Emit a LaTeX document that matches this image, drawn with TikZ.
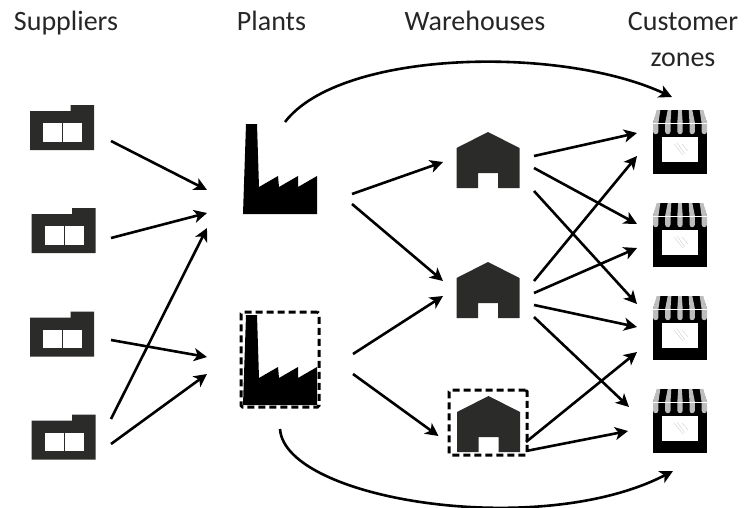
\documentclass[tikz,border=0pt]{standalone}
\usepackage{fontspec}
\setmainfont{Carlito}
\usetikzlibrary{arrows.meta,calc}
\definecolor{ink}{HTML}{2B2B2A}
\definecolor{stripe}{HTML}{BDBDBD}
\tikzset{
  x=1pt,y=-1pt,
  heading/.style={font=\fontsize{28}{36}\selectfont,align=center,text=black!85,inner sep=0pt},
  link/.style={draw=black,line width=2.6pt,-{Stealth[length=13pt,width=13pt,inset=3.5pt]}},
  bound/.style={draw=black,line width=3pt,dash pattern=on 7pt off 4pt,rounded corners=1.5pt,inner sep=0pt},
  holder/.style={inner sep=0pt,minimum width=0pt,draw=none},
  pics/supplier/.style={code={
    \fill[ink] (-32,-16.5)--(8.5,-16.5)--(8.5,-22.5)--(32,-22.5)--(32,22.5)--(-32,22.5)--cycle;
    \fill[white] (-19,-4.5) rectangle (0,14);
    \fill[white] (1,-4.5) rectangle (20,14);
  }},
  pics/plant/.style={code={
    \fill[black] (-37,45)--(-34,-45)--(-23,-45)--(-21,18)--(-2,7)--(-1,18)--(18,7)--(18,18)--(37,7)--(37,45)--cycle;
  }},
  pics/depot/.style={code={
    \fill[ink] (-31.5,-12)--(0,-28)--(31.5,-12)--(31.5,28)--(10,28)--(10,13)--(-10,13)--(-10,28)--(-31.5,28)--cycle;
  }},
  pics/shop/.style={code={
    \fill[black] (-27,-20) rectangle (27,31);
    \fill[white] (-18,-6) rectangle (18,19);
    \fill[black] (-22.5,-33)--(22.5,-33)--(27,-20)--(-27,-20)--cycle;
    \foreach \t/\b in {-21.5/-24.3,-10.5/-12.2,0/0,10.5/12.2,21.5/24.3}{
      \fill[stripe] (\t-1.8,-33)--(\t+1.8,-33)--(\b+2.7,-20)--(\b+2.7,-11.5)
        arc[start angle=0,end angle=180,radius=2.7]--(\b-2.7,-20)--cycle;
    }
    \draw[white,line width=0.5pt] (-27,-20)--(27,-20);
    \draw[black!18,line width=0.4pt] (-6,1)--(3,12) (-3,0)--(5,11) (2,1)--(8,8);
  }}
}
\begin{document}
\begin{tikzpicture}
\useasboundingbox (0,0) rectangle (744,507);
% headings
\node[heading,anchor=base] (hs) at (66,30) {Suppliers};
\node[heading,anchor=base] (hp) at (271.5,30) {Plants};
\node[heading,anchor=base] (hw) at (475,30) {Warehouses};
\node[heading] (hc) at (683,40) {Customer\\zones};
% icons
\node[holder] (s1) at (62,127.5) {}; \pic at (s1) {supplier};
\node[holder] (s2) at (63.5,230.5) {}; \pic at (s2) {supplier};
\node[holder] (s3) at (62,334) {}; \pic at (s3) {supplier};
\node[holder] (s4) at (63.5,437) {}; \pic at (s4) {supplier};
\node[holder] (p1) at (280,169) {}; \pic at (p1) {plant};
\node[holder] (p2) at (280,360) {}; \pic at (p2) {plant};
\node[holder] (w1) at (488,160) {}; \pic at (w1) {depot};
\node[holder] (w2) at (488,290) {}; \pic at (w2) {depot};
\node[holder] (w3) at (488.5,424) {}; \pic at (w3) {depot};
\node[holder] (c1) at (680,143) {}; \pic at (c1) {shop};
\node[holder] (c2) at (680,236) {}; \pic at (c2) {shop};
\node[holder] (c3) at (680,329) {}; \pic at (c3) {shop};
\node[holder] (c4) at (680,422) {}; \pic at (c4) {shop};
% dashed frames
\node[bound,minimum width=78pt,minimum height=95pt] (fp) at (280,359.5) {};
\node[bound,minimum width=78pt,minimum height=65pt] (fw) at (488,422.5) {};
% connectors
\draw[link] ($(s1)+(49,13.5)$) -- ($(p1)+(-73,21)$);
\draw[link] ($(s2)+(47.5,7.5)$) -- ($(p1)+(-73,44)$);
\draw[link] ($(s3)+(49,6)$) -- ($(p2)+(-73,-3)$);
\draw[link] ($(s4)+(47.5,7)$) -- ($(p2)+(-73,14)$);
\draw[link] ($(s4)+(47.5,-18)$) -- ($(p1)+(-73,59)$);
\draw[link] ($(p1)+(72,25)$) -- ($(w1)+(-45,2)$);
\draw[link] ($(p1)+(72,35)$) -- ($(w2)+(-45,-9)$);
\draw[link] ($(p2)+(73,-6)$) -- ($(w2)+(-45,6)$);
\draw[link] ($(p2)+(73,14)$) -- ($(w3)+(-50,12)$);
\draw[link] ($(w1)+(46,-4)$) -- ($(c1)+(-43,-10)$);
\draw[link] ($(w1)+(46,8)$) -- ($(c2)+(-43,-12)$);
\draw[link] ($(w1)+(46,31)$) -- ($(c3)+(-43,-25)$);
\draw[link] ($(w2)+(46,-9)$) -- ($(c1)+(-43,13)$);
\draw[link] ($(w2)+(46,3)$) -- ($(c2)+(-43,12)$);
\draw[link] ($(w2)+(46,15)$) -- ($(c3)+(-43,-2)$);
\draw[link] ($(w2)+(46,27)$) -- ($(c4)+(-51,-15)$);
\draw[link] ($(w3)+(37.5,18)$) -- ($(c3)+(-43,23)$);
\draw[link] ($(w3)+(37.5,27)$) -- ($(c4)+(-52,9)$);
\draw[link] ($(p1)+(5,-47)$) .. controls (340,50) and (560,45) .. ($(c1)+(-8,-46)$);
\draw[link] ($(p2)+(0,69)$) .. controls (285,500) and (540,540) .. ($(c4)+(-7,49)$);
\end{tikzpicture}
\end{document}
